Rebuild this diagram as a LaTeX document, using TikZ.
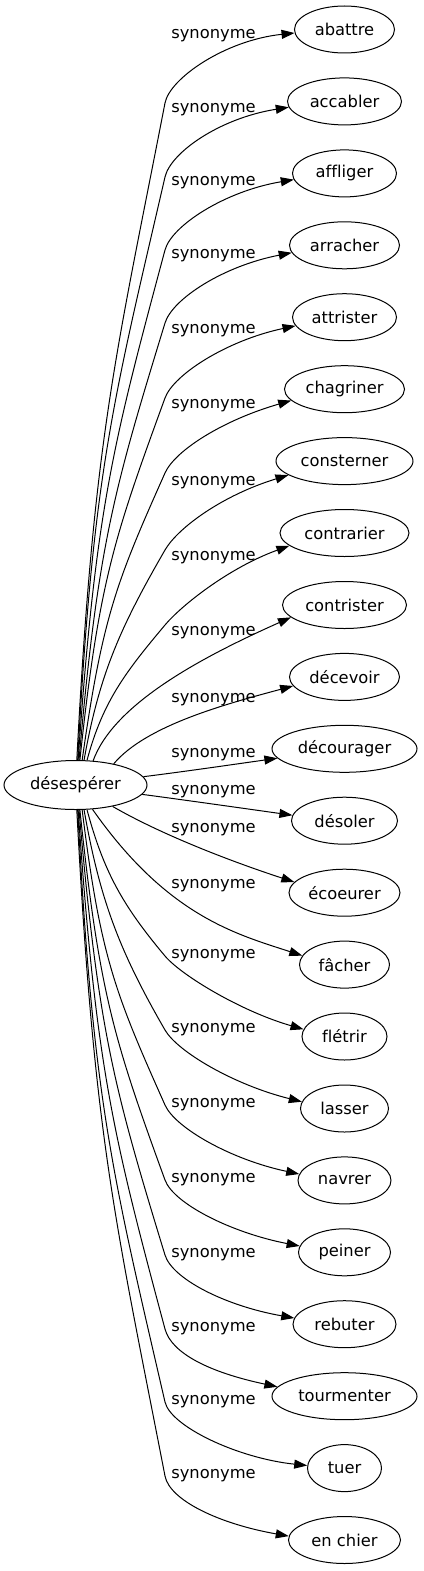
\documentclass[tikz,border=0pt]{standalone}
\usepackage{fontspec}
\setmainfont{DejaVu Sans}[Ligatures=CommonOff]
\usetikzlibrary{shapes.geometric,arrows.meta}
\begin{document}
\begin{tikzpicture}[x=1pt,y=1pt,
  every node/.style={font=\fontsize{16.3}{19}\selectfont},
  srcnode/.style={ellipse,draw,line width=1pt,inner sep=0pt,minimum width=143pt,minimum height=49pt},
  tgt/.style={ellipse,draw,line width=1pt,inner sep=0pt,minimum height=47pt},
  lbl/.style={anchor=base,inner sep=0pt},
  edge/.style={line width=1pt,-{Triangle[length=13pt,width=9pt]}},
  up/.style={out looseness=1.25}]
\useasboundingbox (0,0) rectangle (423,-1571);
\node[srcnode] (src) at (75.5,-785) {désespérer};
\node[tgt,minimum width=100pt] (t0) at (344.5,-29.5) {abattre};
\node[tgt,minimum width=114pt] (t1) at (344.5,-101.4) {accabler};
\node[tgt,minimum width=104pt] (t2) at (344.5,-173.4) {affliger};
\node[tgt,minimum width=110pt] (t3) at (344.5,-245.3) {arracher};
\node[tgt,minimum width=104pt] (t4) at (344.5,-317.2) {attrister};
\node[tgt,minimum width=120pt] (t5) at (344.5,-389.2) {chagriner};
\node[tgt,minimum width=137pt] (t6) at (344.5,-461.1) {consterner};
\node[tgt,minimum width=129pt] (t7) at (344.5,-533.0) {contrarier};
\node[tgt,minimum width=124pt] (t8) at (344.5,-605.0) {contrister};
\node[tgt,minimum width=110pt] (t9) at (344.5,-676.9) {décevoir};
\node[tgt,minimum width=145pt] (t10) at (344.5,-748.8) {décourager};
\node[tgt,minimum width=106pt] (t11) at (344.5,-820.7) {désoler};
\node[tgt,minimum width=111pt] (t12) at (344.5,-892.7) {écoeurer};
\node[tgt,minimum width=90pt] (t13) at (344.5,-964.6) {fâcher};
\node[tgt,minimum width=85pt] (t14) at (344.5,-1036.5) {flétrir};
\node[tgt,minimum width=88pt] (t15) at (344.5,-1108.5) {lasser};
\node[tgt,minimum width=93pt] (t16) at (344.5,-1180.4) {navrer};
\node[tgt,minimum width=92pt] (t17) at (344.5,-1252.3) {peiner};
\node[tgt,minimum width=103pt] (t18) at (344.5,-1324.2) {rebuter};
\node[tgt,minimum width=145pt] (t19) at (344.5,-1396.2) {tourmenter};
\node[tgt,minimum width=74pt] (t20) at (344.5,-1468.1) {tuer};
\node[tgt,minimum width=112pt] (t21) at (344.5,-1540.0) {en chier};
% labels
\node[lbl] (l0) at (213.5,-38.5) {synonyme};
\node[lbl] (l1) at (213.5,-112.5) {synonyme};
\node[lbl] (l2) at (213.5,-185.5) {synonyme};
\node[lbl] (l3) at (213.5,-258.5) {synonyme};
\node[lbl] (l4) at (213.5,-333.5) {synonyme};
\node[lbl] (l5) at (213.5,-408.5) {synonyme};
\node[lbl] (l6) at (213.5,-485.5) {synonyme};
\node[lbl] (l7) at (213.5,-560.5) {synonyme};
\node[lbl] (l8) at (213.5,-635.5) {synonyme};
\node[lbl] (l9) at (213.5,-702.5) {synonyme};
\node[lbl] (l10) at (213.5,-757.5) {synonyme};
\node[lbl] (l11) at (213.5,-794.5) {synonyme};
\node[lbl] (l12) at (213.5,-832.5) {synonyme};
\node[lbl] (l13) at (213.5,-888.5) {synonyme};
\node[lbl] (l14) at (213.5,-958.5) {synonyme};
\node[lbl] (l15) at (213.5,-1032.5) {synonyme};
\node[lbl] (l16) at (213.5,-1107.5) {synonyme};
\node[lbl] (l17) at (213.5,-1182.5) {synonyme};
\node[lbl] (l18) at (213.5,-1257.5) {synonyme};
\node[lbl] (l19) at (213.5,-1331.5) {synonyme};
\node[lbl] (l20) at (213.5,-1404.5) {synonyme};
\node[lbl] (l21) at (213.5,-1478.5) {synonyme};
% upper edges
\draw[edge] (src.87) to[up,out=87,in=259] (165,-103) .. controls +(79:25) and +(186:70) .. (t0.184);
\draw[edge] (src.85) to[up,out=87,in=257] (165,-177) .. controls +(77:25) and +(189:70) .. (t1.186);
\draw[edge] (src.84) to[up,out=86,in=255] (165,-250) .. controls +(75:25) and +(189.5:70) .. (t2.187);
\draw[edge] (src.82) to[up,out=85,in=253] (165,-323) .. controls +(73:25) and +(191:70) .. (t3.188);
\draw[edge] (src.80) to[up,out=84,in=250] (165,-398) .. controls +(70:25) and +(192:70) .. (t4.190);
\draw[edge] (src.75) to[up,out=82,in=246] (165,-473) .. controls +(66:25) and +(196:70) .. (t5.192);
\draw[edge] (src.71) to[out=80,in=240] (165,-550) .. controls +(60:25) and +(197:70) .. (t6.194);
\draw[edge] (src.65) to[out=75,in=230] (165,-625) .. controls +(50:25) and +(200:65) .. (t7.193);
\draw[edge] (src.54) .. controls +(70:60) and +(204:100) .. (t8.193);
\draw[edge] (src.29) .. controls +(50:50) and +(195:70) .. (t9.190);
\draw[edge] (src.7) .. controls +(7:40) and +(188:40) .. (t10.188);
% lower edges
\draw[edge] (src.352) .. controls +(-7.5:40) and +(172:40) .. (t11.174);
\draw[edge] (src.330) .. controls +(-30:60) and +(162:60) .. (t12.168);
\draw[edge] (src.305) .. controls +(-55:130) and +(162:70) .. (t13.168);
\draw[edge] (src.295) to[out=-75,in=130] (165,-956) .. controls +(-50:25) and +(164:65) .. (t14.170);
\draw[edge] (src.289) to[out=-80,in=120] (165,-1030) .. controls +(-60:25) and +(166:70) .. (t15.171);
\draw[edge] (src.285) to[up,out=-83,in=114] (165,-1105) .. controls +(-66:25) and +(168:70) .. (t16.172);
\draw[edge] (src.280) to[up,out=-84,in=110] (165,-1180) .. controls +(-70:25) and +(169:70) .. (t17.172);
\draw[edge] (src.278) to[up,out=-85,in=107] (165,-1255) .. controls +(-73:25) and +(170:70) .. (t18.173);
\draw[edge] (src.276) to[up,out=-86,in=105] (165,-1329) .. controls +(-75:25) and +(168:70) .. (t19.172);
\draw[edge] (src.275) to[up,out=-87,in=103] (165,-1402) .. controls +(-77:25) and +(174:70) .. (t20.176);
\draw[edge] (src.273) to[up,out=-87,in=101] (165,-1476) .. controls +(-79:25) and +(170:70) .. (t21.176);
\end{tikzpicture}
\end{document}
